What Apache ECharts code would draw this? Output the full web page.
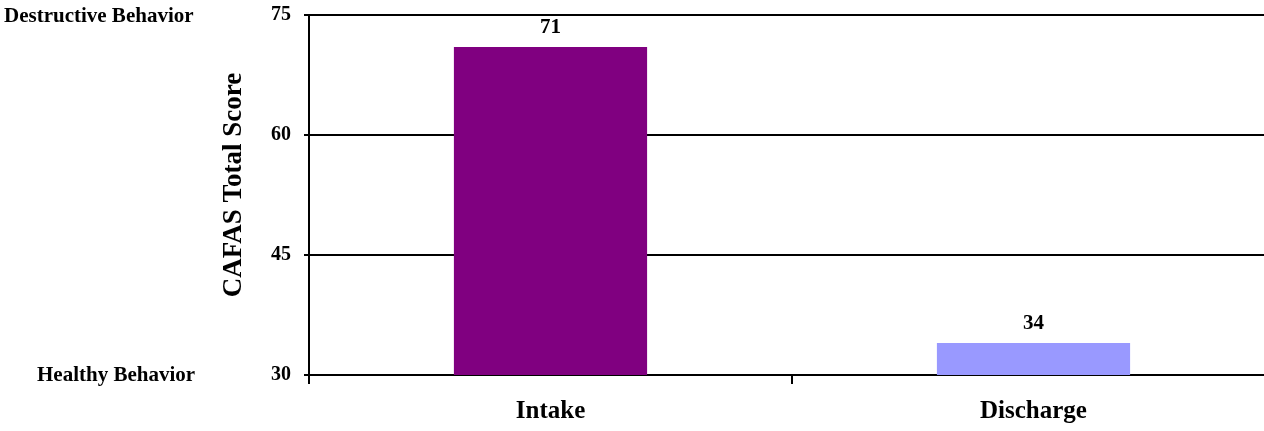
<!DOCTYPE html>
<html>
<head>
<meta charset="utf-8">
<script src="https://cdn.jsdelivr.net/npm/echarts@6/dist/echarts.min.js"></script>
<style>
  html, body { margin: 0; padding: 0; background: #fff; }
  #main { width: 1264px; height: 431px; }
</style>
</head>
<body>
<div id="main"></div>
<script>
var categories = ['Intake', 'Discharge'];
var scores = [71, 34];
var barColors = ['#800080', '#9999FF'];
var yTicks = [30, 45, 60, 75];

var font = '"Liberation Serif", "Times New Roman", serif';
var chart = echarts.init(document.getElementById('main'));
chart.setOption({
  animation: false,
  textStyle: { fontFamily: font },
  graphic: [
    { type: 'text', left: 4, top: 6,
      style: { text: 'Destructive Behavior', font: 'bold 21px ' + font, fill: '#000' } },
    { type: 'text', left: 37, top: 365,
      style: { text: 'Healthy Behavior', font: 'bold 21px ' + font, fill: '#000' } },
    // y axis title, rotated
    { type: 'text', x: 234, y: 185, rotation: Math.PI / 2,
      style: { text: 'CAFAS Total Score', font: 'bold 27px ' + font, fill: '#000',
               align: 'center', verticalAlign: 'middle' } }
  ],
  // plot runs past the right edge of the picture (cropped)
  grid: { left: 309, width: 966, top: 15, bottom: 56, outerBoundsMode: 'none' },
  xAxis: {
    type: 'category',
    data: categories,
    axisLine: { lineStyle: { color: '#000', width: 2 } },
    axisTick: { show: true, length: 9, lineStyle: { color: '#000', width: 2 } },
    axisLabel: { color: '#000', fontWeight: 'bold', fontSize: 25, margin: 24, fontFamily: font }
  },
  yAxis: {
    type: 'value',
    min: yTicks[0],
    max: yTicks[yTicks.length - 1],
    interval: 15,
    axisLine: { show: true, lineStyle: { color: '#000', width: 2 } },
    axisTick: { show: true, length: 5, lineStyle: { color: '#000', width: 2 } },
    axisLabel: { color: '#000', fontWeight: 'bold', fontSize: 20, margin: 18, fontFamily: font },
    splitLine: { show: true, lineStyle: { color: '#000', width: 2 } }
  },
  series: [{
    type: 'bar',
    barWidth: '40%',
    data: scores.map(function (v, i) {
      return { value: v, itemStyle: { color: barColors[i] } };
    }),
    label: {
      show: true, position: 'top', distance: 9,
      color: '#000', fontWeight: 'bold', fontSize: 21, fontFamily: font
    }
  }]
});
</script>
</body>
</html>
